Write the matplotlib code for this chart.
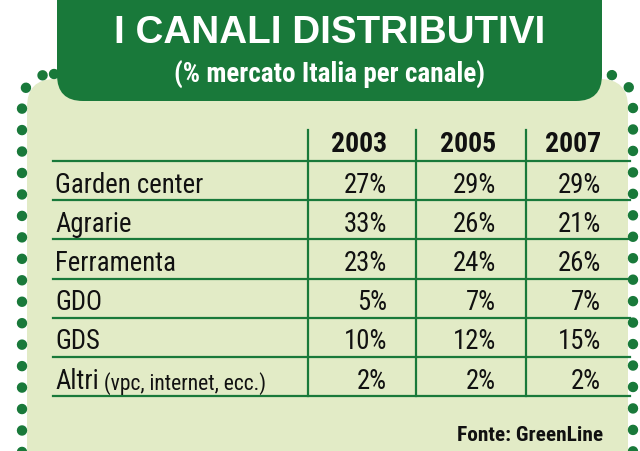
import matplotlib
matplotlib.use("Agg")
import matplotlib.pyplot as plt
from matplotlib.patches import FancyBboxPatch

# data
title = "I CANALI DISTRIBUTIVI"
subtitle = "(% mercato Italia per canale)"
years = ["2003", "2005", "2007"]
channels = ["Garden center", "Agrarie", "Ferramenta", "GDO", "GDS", "Altri"]
channel_notes = ["", "", "", "", "", "(vpc, internet, ecc.)"]
share_2003 = [27, 33, 23, 5, 10, 2]
share_2005 = [29, 26, 24, 7, 12, 2]
share_2007 = [29, 21, 26, 7, 15, 2]
source = "Fonte: GreenLine"

dark = "#19793a"
light = "#e2ebc6"
narrow = "Roboto Condensed"

fig = plt.figure(figsize=(6.4, 4.52), dpi=100)
ax = fig.add_axes([0, 0, 1, 1])
ax.set_xlim(0, 640)
ax.set_ylim(452, 0)
ax.axis("off")

# light panel + dotted border
ax.add_patch(FancyBboxPatch((27, 80), 601, 420, boxstyle="round,pad=0,rounding_size=28",
                            fc=light, ec="none", zorder=1))
border = FancyBboxPatch((22, 75), 611, 430, boxstyle="round,pad=0,rounding_size=32",
                        fc="none", ec=dark, lw=7.5, ls=(0, (0.01, 2.05)), zorder=2)
border.set_capstyle("round")
ax.add_patch(border)

# header box
ax.add_patch(FancyBboxPatch((57, -40), 545, 142, boxstyle="round,pad=0,rounding_size=26",
                            fc=dark, ec="none", zorder=3))
ax.text(330, 33, title, color="white", fontsize=27.8, fontweight="bold",
        family="Liberation Sans", ha="center", va="center", zorder=4)
ax.text(330, 75, subtitle, color="white", fontsize=19.5, fontweight="bold",
        family=narrow, ha="center", va="center", zorder=4)

# table geometry
row_h = 39.2
first_line = 162
col_edges = [308, 416, 526]
col_right = [387, 496, 601]

for i in range(len(channels) + 1):
    y = first_line + i * row_h
    ax.plot([53, 630], [y, y], color=dark, lw=1.6, zorder=3)
for x in col_edges:
    ax.plot([x, x], [131, first_line + len(channels) * row_h], color=dark, lw=1.6, zorder=3)

for xr, yr in zip(col_right, years):
    ax.text(xr, 145, yr, fontsize=20, fontweight="bold", family=narrow,
            ha="right", va="center", color="#111111", zorder=4)

cols = [share_2003, share_2005, share_2007]
for i, name in enumerate(channels):
    yc = first_line + (i + 0.5) * row_h + 3.5
    t = ax.text(55, yc, name, fontsize=19.3, family=narrow, ha="left", va="center",
                color="#111111", zorder=4)
    if channel_notes[i]:
        ax.annotate(" " + channel_notes[i], xycoords=t, xy=(1, 0), va="bottom",
                    fontsize=15.5, family=narrow, color="#111111", zorder=4)
    for xr, vals in zip(col_right, cols):
        ax.text(xr, yc, f"{vals[i]}%", fontsize=19.3, family=narrow, ha="right",
                va="center", color="#111111", zorder=4)

ax.text(603, 436, source, fontsize=15.4, fontweight="bold", family=narrow,
        ha="right", va="center", color="#111111", zorder=4)

fig.savefig("out.png", dpi=100)
